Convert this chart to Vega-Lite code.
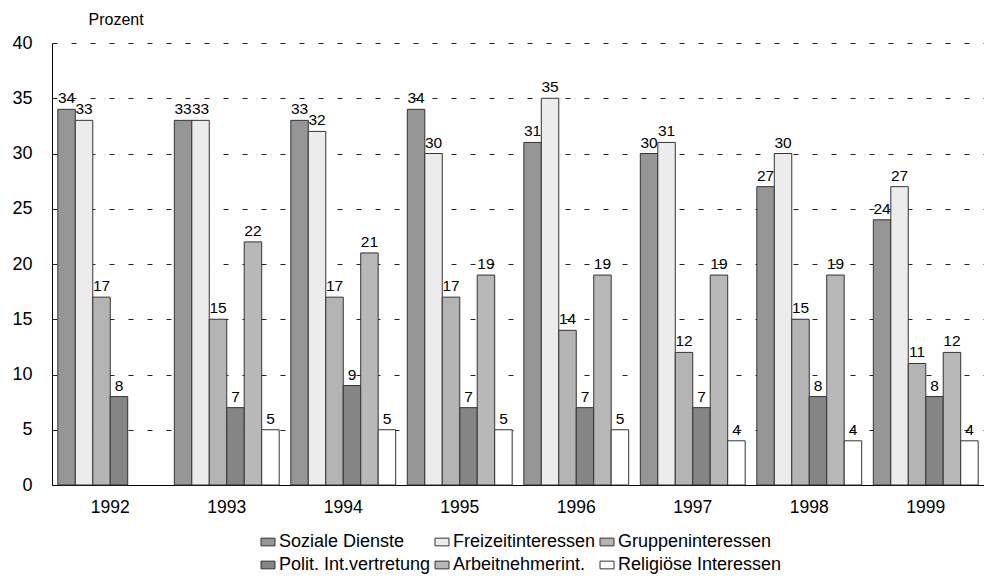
{
  "$schema": "https://vega.github.io/schema/vega-lite/v6.json",
  "width": 932,
  "height": 442,
  "autosize": {"type": "none"},
  "padding": {"left": 52, "top": 43, "right": 0, "bottom": 94},
  "background": "white",
  "config": {
    "font": "Liberation Sans",
    "view": {"stroke": null}
  },
  "data": {
    "values": [
      {"jahr": "1992", "bereich": "Soziale Dienste", "wert": 34},
      {"jahr": "1992", "bereich": "Freizeitinteressen", "wert": 33},
      {"jahr": "1992", "bereich": "Gruppeninteressen", "wert": 17},
      {"jahr": "1992", "bereich": "Polit. Int.vertretung", "wert": 8},
      {"jahr": "1993", "bereich": "Soziale Dienste", "wert": 33},
      {"jahr": "1993", "bereich": "Freizeitinteressen", "wert": 33},
      {"jahr": "1993", "bereich": "Gruppeninteressen", "wert": 15},
      {"jahr": "1993", "bereich": "Polit. Int.vertretung", "wert": 7},
      {"jahr": "1993", "bereich": "Arbeitnehmerint.", "wert": 22},
      {"jahr": "1993", "bereich": "Religiöse Interessen", "wert": 5},
      {"jahr": "1994", "bereich": "Soziale Dienste", "wert": 33},
      {"jahr": "1994", "bereich": "Freizeitinteressen", "wert": 32},
      {"jahr": "1994", "bereich": "Gruppeninteressen", "wert": 17},
      {"jahr": "1994", "bereich": "Polit. Int.vertretung", "wert": 9},
      {"jahr": "1994", "bereich": "Arbeitnehmerint.", "wert": 21},
      {"jahr": "1994", "bereich": "Religiöse Interessen", "wert": 5},
      {"jahr": "1995", "bereich": "Soziale Dienste", "wert": 34},
      {"jahr": "1995", "bereich": "Freizeitinteressen", "wert": 30},
      {"jahr": "1995", "bereich": "Gruppeninteressen", "wert": 17},
      {"jahr": "1995", "bereich": "Polit. Int.vertretung", "wert": 7},
      {"jahr": "1995", "bereich": "Arbeitnehmerint.", "wert": 19},
      {"jahr": "1995", "bereich": "Religiöse Interessen", "wert": 5},
      {"jahr": "1996", "bereich": "Soziale Dienste", "wert": 31},
      {"jahr": "1996", "bereich": "Freizeitinteressen", "wert": 35},
      {"jahr": "1996", "bereich": "Gruppeninteressen", "wert": 14},
      {"jahr": "1996", "bereich": "Polit. Int.vertretung", "wert": 7},
      {"jahr": "1996", "bereich": "Arbeitnehmerint.", "wert": 19},
      {"jahr": "1996", "bereich": "Religiöse Interessen", "wert": 5},
      {"jahr": "1997", "bereich": "Soziale Dienste", "wert": 30},
      {"jahr": "1997", "bereich": "Freizeitinteressen", "wert": 31},
      {"jahr": "1997", "bereich": "Gruppeninteressen", "wert": 12},
      {"jahr": "1997", "bereich": "Polit. Int.vertretung", "wert": 7},
      {"jahr": "1997", "bereich": "Arbeitnehmerint.", "wert": 19},
      {"jahr": "1997", "bereich": "Religiöse Interessen", "wert": 4},
      {"jahr": "1998", "bereich": "Soziale Dienste", "wert": 27},
      {"jahr": "1998", "bereich": "Freizeitinteressen", "wert": 30},
      {"jahr": "1998", "bereich": "Gruppeninteressen", "wert": 15},
      {"jahr": "1998", "bereich": "Polit. Int.vertretung", "wert": 8},
      {"jahr": "1998", "bereich": "Arbeitnehmerint.", "wert": 19},
      {"jahr": "1998", "bereich": "Religiöse Interessen", "wert": 4},
      {"jahr": "1999", "bereich": "Soziale Dienste", "wert": 24},
      {"jahr": "1999", "bereich": "Freizeitinteressen", "wert": 27},
      {"jahr": "1999", "bereich": "Gruppeninteressen", "wert": 11},
      {"jahr": "1999", "bereich": "Polit. Int.vertretung", "wert": 8},
      {"jahr": "1999", "bereich": "Arbeitnehmerint.", "wert": 12},
      {"jahr": "1999", "bereich": "Religiöse Interessen", "wert": 4}
    ]
  },
  "encoding": {
    "x": {
      "field": "jahr",
      "type": "nominal",
      "scale": {"paddingInner": 0.1, "paddingOuter": 0.05},
      "axis": {
        "title": null,
        "labelAngle": 0,
        "labelFontSize": 17.5,
        "labelColor": "black",
        "labelPadding": 13,
        "ticks": false,
        "domainColor": "black",
        "domainWidth": 1
      }
    },
    "xOffset": {
      "field": "bereich",
      "type": "nominal",
      "sort": ["Soziale Dienste", "Freizeitinteressen", "Gruppeninteressen", "Polit. Int.vertretung", "Arbeitnehmerint.", "Religiöse Interessen"],
      "scale": {"paddingInner": 0, "paddingOuter": 0}
    },
    "y": {
      "field": "wert",
      "type": "quantitative",
      "scale": {"domain": [0, 40], "nice": false},
      "axis": {
        "values": [0, 5, 10, 15, 20, 25, 30, 35, 40],
        "title": "Prozent",
        "titleAngle": 0,
        "titleAlign": "left",
        "titleBaseline": "middle",
        "titleX": 36,
        "titleY": -24,
        "titleFontSize": 16,
        "titleFontWeight": "normal",
        "titleColor": "black",
        "labelFontSize": 18,
        "labelColor": "black",
        "labelPadding": 20,
        "ticks": false,
        "domainColor": "black",
        "domainWidth": 1,
        "grid": true,
        "gridColor": "#222",
        "gridDash": [5, 14],
        "gridWidth": 1
      }
    }
  },
  "layer": [
    {
      "mark": {"type": "bar", "stroke": "#333", "strokeWidth": 1},
      "encoding": {
        "color": {
          "field": "bereich",
          "type": "nominal",
          "scale": {
            "domain": ["Soziale Dienste", "Polit. Int.vertretung", "Freizeitinteressen", "Arbeitnehmerint.", "Gruppeninteressen", "Religiöse Interessen"],
            "range": ["#969696", "#858585", "#ececec", "#b8b8b8", "#b4b4b4", "#ffffff"]
          },
          "legend": {
            "title": null,
            "orient": "none",
            "legendX": 207,
            "legendY": 490,
            "columns": 3,
            "symbolType": "M-1,-0.55H1V0.55H-1Z",
            "symbolSize": 196,
            "symbolStrokeColor": "#333",
            "symbolStrokeWidth": 1,
            "labelFontSize": 18,
            "labelLimit": 400,
            "labelColor": "black",
            "labelOffset": 2,
            "columnPadding": 2,
            "rowPadding": 5
          }
        }
      }
    },
    {
      "mark": {"type": "text", "baseline": "bottom", "dy": -3, "fontSize": 15.5, "color": "black"},
      "encoding": {
        "text": {"field": "wert", "type": "quantitative"}
      }
    }
  ]
}
